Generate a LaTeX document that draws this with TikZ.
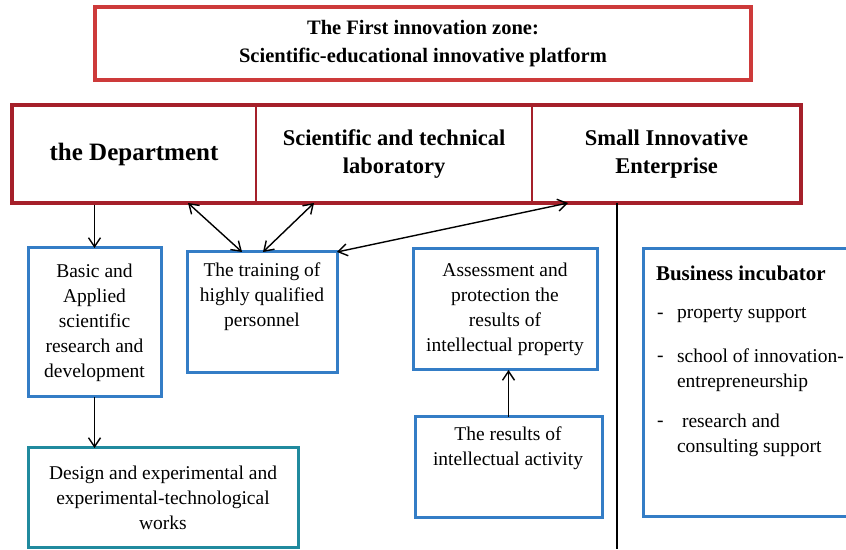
\documentclass[tikz,border=0pt]{standalone}
\usepackage{fontspec}
\setmainfont{Liberation Serif}
\usetikzlibrary{positioning,arrows.meta}

\begin{document}
\begin{tikzpicture}[x=1pt,y=1pt,
  box/.style={draw=boxBlue,line width=3pt,inner sep=0pt,outer sep=0pt,align=center,
    font=\fontsize{19.5}{25}\selectfont},
  cell/.style={inner sep=0pt,outer sep=0pt,align=center,minimum height=98},
  txt/.style={inner sep=0pt,outer sep=0pt,font=\fontsize{19.5}{25}\selectfont},
  arr/.style={line width=1.4pt,-{Straight Barb[length=9pt,width=12pt]}},
  dbl/.style={line width=1.4pt,{Straight Barb[length=9pt,width=12pt]}-{Straight Barb[length=9pt,width=12pt]}}]
\definecolor{titleRed}{RGB}{205,58,58}
\definecolor{hdrRed}{RGB}{165,32,42}
\definecolor{boxBlue}{RGB}{52,125,198}
\definecolor{boxTeal}{RGB}{32,138,158}
\path[use as bounding box,fill=white] (0,0) rectangle (846,549);

\node[draw=titleRed,line width=3.2pt,minimum width=656,minimum height=73,inner sep=0pt,align=center,
  font=\bfseries\fontsize{20.5}{28}\selectfont] (zone) at (423,505.5)
  {The First innovation zone:\\Scientific-educational innovative platform};

\node[draw=hdrRed,line width=3.4pt,minimum width=789,minimum height=98,inner sep=0pt] (hdr) at (406.5,395) {};
\node[cell,minimum width=244,font=\bfseries\fontsize{25}{30}\selectfont] (dept) at (134,395) {the Department};
\node[cell,minimum width=276,font=\bfseries\fontsize{22.5}{28}\selectfont] (lab) at (394,395) {Scientific and technical\\laboratory};
\node[cell,minimum width=269,font=\bfseries\fontsize{22.5}{28}\selectfont] (sie) at (666.5,395) {Small Innovative\\Enterprise};
\draw[hdrRed,line width=2pt] (dept.north east) -- (dept.south east);
\draw[hdrRed,line width=2pt] (lab.north east) -- (lab.south east);

\node[box,minimum width=133,minimum height=149] (basic) at (94.5,226.5)
  {Basic and\\Applied\\scientific\\research and\\development};
\node[box,minimum width=150,minimum height=121] (train) at (262,236.5) {};
\node[txt,align=center] (train-txt) at (262,252) {The training of\\highly qualified\\personnel};
\node[box,minimum width=184,minimum height=121] (assess) at (505,239.5)
  {Assessment and\\protection the\\results of\\intellectual property};
\node[box,minimum width=187,minimum height=100] (results) at (508.5,82) {};
\node[txt,align=center] (results-txt) at (508,100.5) {The results of\\intellectual activity};
\node[box,draw=boxTeal,minimum width=270,minimum height=99] (design) at (163,51.5)
  {Design and experimental and\\experimental-technological\\works};

\node[box,minimum width=209,minimum height=267] (incub) at (747.5,166.5) {};
\node[txt,anchor=west,font=\bfseries\fontsize{21}{25}\selectfont] (incub-title) at (656,276) {Business incubator};
\node[txt,anchor=west] (dash1) at (657,233) {-};
\node[txt,anchor=west,align=left] (item1) at (677,234) {property support};
\node[txt,anchor=west] (dash2) at (657,190) {-};
\node[txt,anchor=west,align=left] (item2) at (677,179) {school of innovation-\\entrepreneurship};
\node[txt,anchor=west] (dash3) at (657,125) {-};
\node[txt,anchor=west,align=left] (item3) at (677,113.5) {\hspace{5pt}research and\\consulting support};

\coordinate (sep-top) at (617,346);
\coordinate (sep-bot) at (617,0);
\draw[line width=1.3pt] (sep-top) -- (sep-bot);

\draw[arr] (basic.north |- hdr.south) -- (basic.north);
\draw[arr] (basic.south) -- (basic.south |- design.north);
\draw[dbl] ([xshift=-68pt]dept.south east) -- ([xshift=-20pt]train.north);
\draw[dbl] ([xshift=58pt]lab.south west) -- ([xshift=1pt]train.north);
\draw[dbl] (train.north east) -- ([xshift=36pt]sie.south west);
\draw[arr] (results.north) -- (results.north |- assess.south);
\end{tikzpicture}
\end{document}
